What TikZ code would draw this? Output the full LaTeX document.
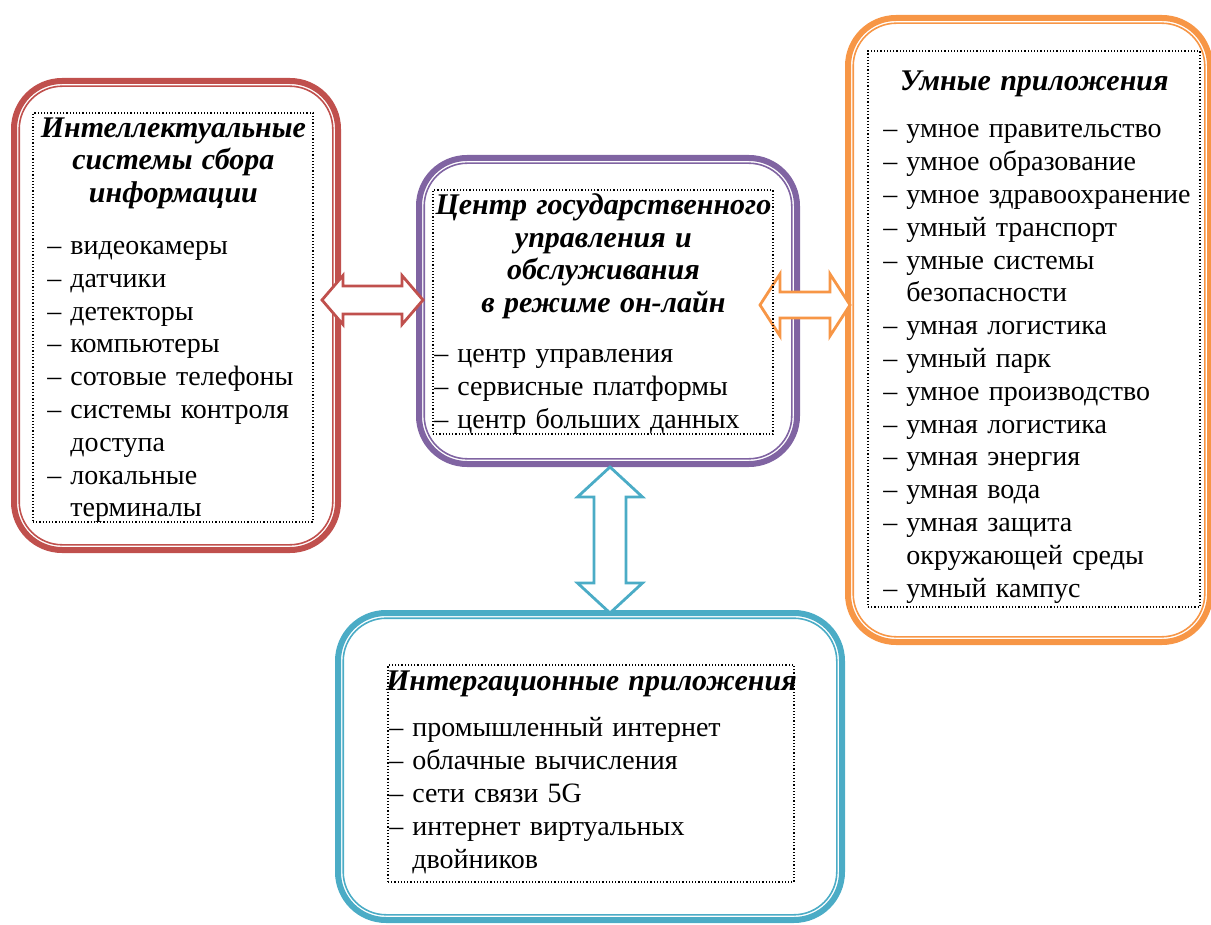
\documentclass[tikz,border=0pt]{standalone}
\usepackage{fontspec}
\setmainfont{Liberation Serif}
\usetikzlibrary{calc}
\definecolor{redc}{HTML}{C0504D}
\definecolor{purplec}{HTML}{8064A2}
\definecolor{orangec}{HTML}{F79646}
\definecolor{bluec}{HTML}{4BACC6}
\tikzstyle{roundbox} = [rectangle, rounded corners=24pt, line width=3pt, outer sep=0pt, inner sep=0pt]
\tikzstyle{innerline} = [line width=0.8pt, rounded corners=21.5pt]
\tikzstyle{dotbox} = [rectangle, draw=black, densely dotted, line width=0.6pt, inner sep=0pt, outer sep=0pt]
\tikzstyle{boxtext} = [anchor=north west, inner sep=0pt, font=\fontsize{14}{16.4}\selectfont]
\newcommand{\ttl}{\bfseries\itshape\fontsize{15}{16.4}\selectfont}
\newcommand{\itm}[1]{\par\hangindent=11.5pt\hangafter=1\noindent\makebox[11.5pt][l]{–}#1}
% hollow two-headed block arrow: colour, from, to, head length, head half width, shaft half width
\newcommand{\hollowarrow}[6]{%
  \draw[#1, line width=1.4pt, fill=white, line join=miter]
    (#2) -- ($(#2)!#4!(#3)!#5!90:(#3)$) -- ($(#2)!#4!(#3)!#6!90:(#3)$)
    -- ($(#3)!#4!(#2)!#6!-90:(#2)$) -- ($(#3)!#4!(#2)!#5!-90:(#2)$) -- (#3)
    -- ($(#3)!#4!(#2)!#5!90:(#2)$) -- ($(#3)!#4!(#2)!#6!90:(#2)$)
    -- ($(#2)!#4!(#3)!#6!-90:(#3)$) -- ($(#2)!#4!(#3)!#5!-90:(#3)$) -- cycle;}

\begin{document}
\begin{tikzpicture}[x=0.5pt, y=-0.5pt]
\useasboundingbox (0,0) rectangle (1211,925);
% outer frames
\node (info) [roundbox, draw=redc, minimum width=162pt, minimum height=234.5pt] at (176,315.5) {};
\node (hub) [roundbox, draw=purplec, minimum width=189pt, minimum height=153pt] at (608,311) {};
\node (smart) [roundbox, draw=orangec, minimum width=181pt, minimum height=312pt] at (1029,330) {};
\node (integ) [roundbox, draw=bluec, minimum width=252pt, minimum height=153.5pt] at (590,766.5) {};
\foreach \b/\c in {info/redc, hub/purplec, smart/orangec, integ/bluec}
  \draw [innerline, \c] ([shift={(2.6pt,-2.6pt)}]\b.north west) rectangle ([shift={(-2.6pt,2.6pt)}]\b.south east);

% arrows
\path (info.east) ++(-8pt,7.75pt) coordinate (ia);
\coordinate (ib) at ($(hub.west |- ia)+(2pt,0)$);
\hollowarrow{redc}{ia}{ib}{10.5pt}{12.25pt}{7pt}
\path (hub.east) ++(-18.5pt,3pt) coordinate (sa);
\coordinate (sb) at ($(smart.west |- sa)+(1pt,0)$);
\hollowarrow{orangec}{sa}{sb}{10pt}{15.5pt}{6.5pt}
\path (hub.south) ++(1pt,-1.5pt) coordinate (ga);
\coordinate (gb) at (ga |- integ.north);
\hollowarrow{bluec}{ga}{gb}{15pt}{16.25pt}{8pt}

% text frames
\node (infoframe) [dotbox, minimum width=140pt, minimum height=204.5pt] at (173,317.5) {};
\node (infotext) [boxtext, text width=139pt] at (34,117) {\parindent=0pt\centering
  {\ttl Интеллектуальные\\ системы сбора\\ информации\par}\vspace{9.5pt}
  \raggedright\leftskip=6.5pt
  \itm{видеокамеры}\itm{датчики}\itm{детекторы}\itm{компьютеры}
  \itm{сотовые телефоны}\itm{системы контроля\newline доступа}\itm{локальные\newline терминалы}\par};

\node (hubframe) [dotbox, minimum width=170pt, minimum height=122pt] at (603,312) {};
\node (hubtext) [boxtext, text width=169pt] at (434,193) {\parindent=0pt\centering
  {\ttl Центр государственного\\ управления и\\ обслуживания\\ в режиме он-лайн\par}\vspace{8.5pt}
  \raggedright
  \itm{центр управления}\itm{сервисные платформы}\itm{центр больших данных}\par};

\node (smartframe) [dotbox, minimum width=166pt, minimum height=278pt] at (1034,329) {};
\node (smarttext) [boxtext, text width=165pt] at (869,70) {\parindent=0pt\centering
  {\ttl Умные приложения\par}\vspace{7.5pt}
  \raggedright\leftskip=7pt
  \itm{умное правительство}\itm{умное образование}\itm{умное здравоохранение}
  \itm{умный транспорт}\itm{умные системы\newline безопасности}\itm{умная логистика}
  \itm{умный парк}\itm{умное производство}\itm{умная логистика}\itm{умная энергия}
  \itm{умная вода}\itm{умная защита\newline окружающей среды}\itm{умный кампус}\par};

\node (integframe) [dotbox, minimum width=203pt, minimum height=108.5pt] at (591,773.5) {};
\node (integtext) [boxtext, text width=202pt] at (389,670) {\parindent=0pt\centering
  {\ttl \makebox[\linewidth][c]{Интергационные приложения}\par}\vspace{7pt}
  \raggedright
  \itm{промышленный интернет}\itm{облачные вычисления}\itm{сети связи 5G}
  \itm{интернет виртуальных\newline двойников}\par};
\end{tikzpicture}
\end{document}
